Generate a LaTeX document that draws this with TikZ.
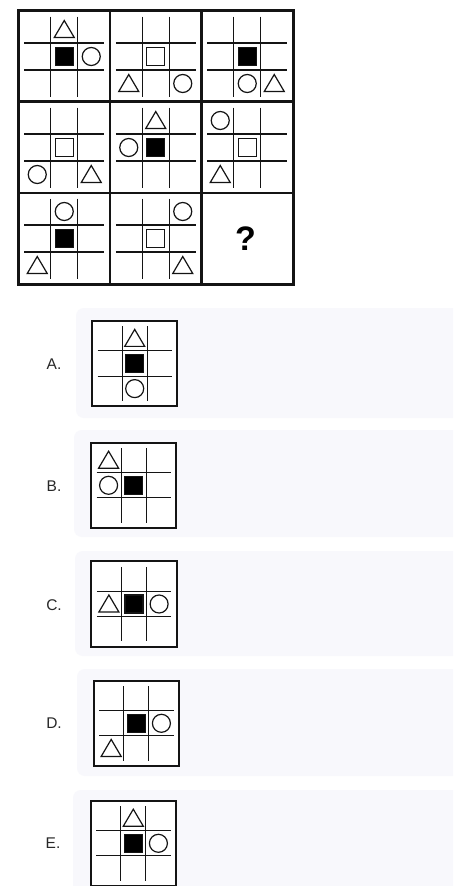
\documentclass[tikz,border=0pt]{standalone}
\usepackage{fontspec}
\setmainfont{Liberation Sans}
\definecolor{panelbg}{RGB}{248,248,252}
\definecolor{ink}{RGB}{20,20,20}
\definecolor{labelc}{RGB}{40,40,40}
\tikzset{
  shp/.style={line width=1.2pt, draw=ink},
  gridl/.style={line width=1.1pt, draw=ink},
  tri/.pic={\draw[shp] (-10,8) -- (10,8) -- (0,-9) -- cycle;},
  circ/.pic={\draw[shp] (0,0) circle (9);},
  sqf/.pic={\filldraw[shp, fill=black] (-9,-9) rectangle (9,9);},
  sqe/.pic={\draw[shp] (-9,-9) rectangle (9,9);},
  optlabel/.style={font=\fontsize{15.5}{15.5}\selectfont, text=labelc},
  optbox/.style={line width=2pt, draw=ink},
  bgpanel/.style={fill=panelbg, rounded corners=8pt},
}
\newcommand\panelgrid{%
  \foreach \v in {-13.5,13.5}{%
    \draw[gridl] (\v,-40) -- (\v,40);
    \draw[gridl] (-40,\v) -- (40,\v);
  }}
\begin{document}
\begin{tikzpicture}[x=1pt,y=-1pt]
\useasboundingbox (0,0) rectangle (453,886);
\clip (0,0) rectangle (453,886);
\fill[white] (0,0) rectangle (453,886);

% ---------- main 3x3 matrix ----------
% row 1
\begin{scope}[shift={(64.25,56.5)}]
  \panelgrid
  \pic at (0,-27) {tri}; \pic at (0,0) {sqf}; \pic at (27,0) {circ};
\end{scope}
\begin{scope}[shift={(155.75,56.5)}]
  \panelgrid
  \pic at (0,0) {sqe}; \pic at (-27,27) {tri}; \pic at (27,27) {circ};
\end{scope}
\begin{scope}[shift={(247.25,56.5)}]
  \panelgrid
  \pic at (0,0) {sqf}; \pic at (0,27) {circ}; \pic at (27,27) {tri};
\end{scope}
% row 2
\begin{scope}[shift={(64.25,147.5)}]
  \panelgrid
  \pic at (0,0) {sqe}; \pic at (-27,27) {circ}; \pic at (27,27) {tri};
\end{scope}
\begin{scope}[shift={(155.75,147.5)}]
  \panelgrid
  \pic at (0,-27) {tri}; \pic at (-27,0) {circ}; \pic at (0,0) {sqf};
\end{scope}
\begin{scope}[shift={(247.25,147.5)}]
  \panelgrid
  \pic at (-27,-27) {circ}; \pic at (0,0) {sqe}; \pic at (-27,27) {tri};
\end{scope}
% row 3
\begin{scope}[shift={(64.25,238.5)}]
  \panelgrid
  \pic at (0,-27) {circ}; \pic at (0,0) {sqf}; \pic at (-27,27) {tri};
\end{scope}
\begin{scope}[shift={(155.75,238.5)}]
  \panelgrid
  \pic at (27,-27) {circ}; \pic at (0,0) {sqe}; \pic at (27,27) {tri};
\end{scope}
\node (q) at (245.5,239) {\fontsize{34}{34}\selectfont\bfseries ?};

% matrix frame
\draw[line width=2.2pt, draw=ink] (110,10) -- (110,284.5) (201.5,10) -- (201.5,284.5)
  (18.5,101.5) -- (293,101.5) (18.5,193) -- (293,193);
\draw[line width=3pt, draw=ink] (18.5,10) rectangle (293,284.5);

% ---------- options ----------
\fill[bgpanel] (76,308) rectangle (480,418);
\fill[bgpanel] (74,430) rectangle (480,537);
\fill[bgpanel] (75,551) rectangle (480,656);
\fill[bgpanel] (77,669) rectangle (480,776);
\fill[bgpanel] (73,790) rectangle (480,910);

\node[optlabel] (la) at (54,364) {A.};
\node[optlabel] (lb) at (54,486) {B.};
\node[optlabel] (lc) at (54,605) {C.};
\node[optlabel] (ld) at (54,723) {D.};
\node[optlabel] (le) at (53,843) {E.};

% A
\begin{scope}[shift={(134.7,363.5)}, scale=0.93]
  \fill[white] (-46,-46) rectangle (46,46);
  \panelgrid
  \pic at (0,-27) {tri}; \pic at (0,0) {sqf}; \pic at (0,27) {circ};
  \draw[optbox] (-46,-46) rectangle (46,46);
\end{scope}
% B
\begin{scope}[shift={(133.7,485.3)}, scale=0.93]
  \fill[white] (-46,-46) rectangle (46,46);
  \panelgrid
  \pic at (-27,-27) {tri}; \pic at (-27,0) {circ}; \pic at (0,0) {sqf};
  \draw[optbox] (-46,-46) rectangle (46,46);
\end{scope}
% C
\begin{scope}[shift={(134,604)}, scale=0.93]
  \fill[white] (-46,-46) rectangle (46,46);
  \panelgrid
  \pic at (-27,0) {tri}; \pic at (0,0) {sqf}; \pic at (27,0) {circ};
  \draw[optbox] (-46,-46) rectangle (46,46);
\end{scope}
% D
\begin{scope}[shift={(136.3,723.3)}, scale=0.93]
  \fill[white] (-46,-46) rectangle (46,46);
  \panelgrid
  \pic at (0,0) {sqf}; \pic at (27,0) {circ}; \pic at (-27,27) {tri};
  \draw[optbox] (-46,-46) rectangle (46,46);
\end{scope}
% E
\begin{scope}[shift={(133.3,843.3)}, scale=0.93]
  \fill[white] (-46,-46) rectangle (46,46);
  \panelgrid
  \pic at (0,-27) {tri}; \pic at (0,0) {sqf}; \pic at (27,0) {circ};
  \draw[optbox] (-46,-46) rectangle (46,46);
\end{scope}
\end{tikzpicture}
\end{document}
